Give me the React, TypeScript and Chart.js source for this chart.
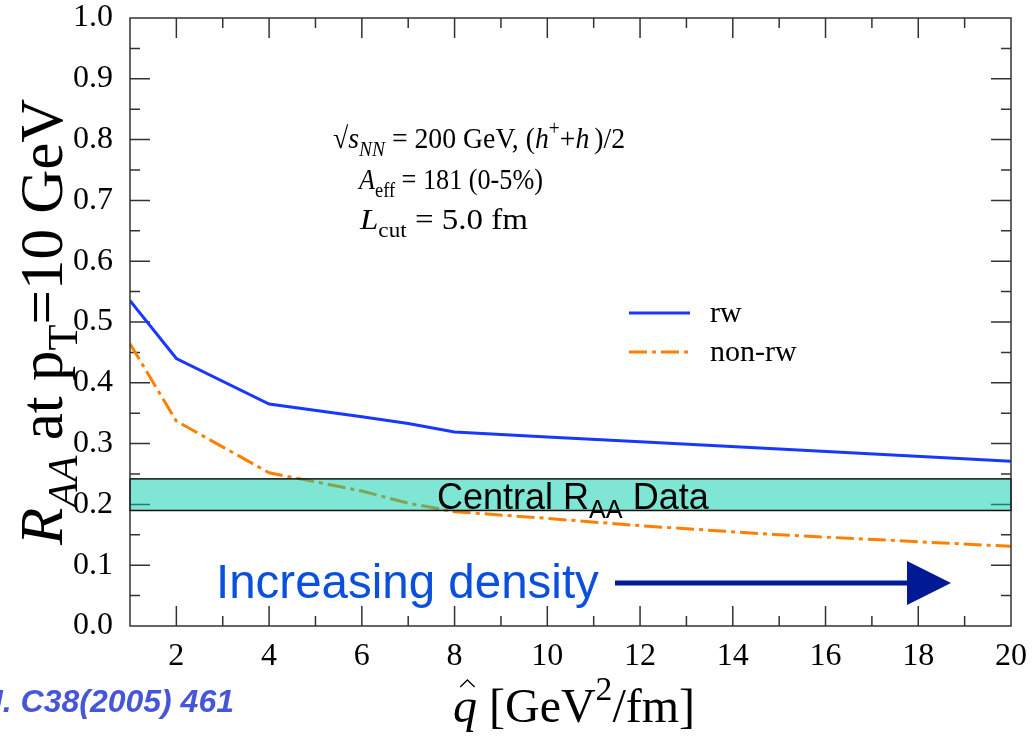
import React, { useEffect, useRef } from "react";
import { Chart, registerables } from "chart.js";

Chart.register(...registerables);

// ---------- data ----------
const QHAT = [1, 2, 4, 6, 7, 8, 10, 12, 15, 20];
const RAA_RW = [0.535, 0.44, 0.365, 0.344, 0.333, 0.319, 0.311, 0.303, 0.291, 0.271];
const RAA_NONRW = [0.464, 0.337, 0.252, 0.222, 0.202, 0.188, 0.177, 0.165, 0.15, 0.131];
const BAND_LOW = 0.19;
const BAND_HIGH = 0.242;
const X_TICKS = [2, 4, 6, 8, 10, 12, 14, 16, 18, 20];
const Y_TICKS = [0, 0.1, 0.2, 0.3, 0.4, 0.5, 0.6, 0.7, 0.8, 0.9, 1.0];
const SERIES_LABELS = ["rw", "non-rw"];

const SERIF = "'Liberation Serif', 'Times New Roman', serif";
const SANS = "'Liberation Sans', Arial, sans-serif";
const BLUE = "#1838ff";
const ORANGE = "#ff8000";
const DASH = [18, 5, 4, 5];

type Seg = { t: string; it?: boolean; sub?: boolean; sup?: boolean };

function richWidth(ctx: CanvasRenderingContext2D, segs: Seg[], size: number, family: string) {
  let w = 0;
  for (const s of segs) {
    const sz = s.sub || s.sup ? size * 0.7 : size;
    ctx.font = `${s.it ? "italic " : ""}${sz}px ${family}`;
    w += ctx.measureText(s.t).width;
  }
  return w;
}

function drawRich(
  ctx: CanvasRenderingContext2D,
  segs: Seg[],
  x: number,
  y: number,
  size: number,
  family: string,
  color: string,
  fitWidth?: number
) {
  ctx.save();
  ctx.translate(x, y);
  if (fitWidth) {
    const w = richWidth(ctx, segs, size, family);
    ctx.scale(fitWidth / w, 1);
  }
  let cx = 0;
  ctx.fillStyle = color;
  ctx.textBaseline = "alphabetic";
  ctx.textAlign = "left";
  for (const s of segs) {
    const sz = s.sub || s.sup ? size * 0.7 : size;
    ctx.font = `${s.it ? "italic " : ""}${sz}px ${family}`;
    const dy = s.sub ? size * 0.25 : s.sup ? -size * 0.45 : 0;
    ctx.fillText(s.t, cx, dy);
    cx += ctx.measureText(s.t).width;
  }
  ctx.restore();
  return cx;
}

const decorPlugin = {
  id: "decor",
  beforeDatasetsDraw(chart: any) {
    const { ctx, chartArea: a, scales } = chart;
    const xs = scales.x;
    const ys = scales.y;
    ctx.save();
    ctx.strokeStyle = "#333";
    ctx.lineWidth = 1.5;
    ctx.beginPath();
    for (let v = 2; v < 20; v++) {
      const px = xs.getPixelForValue(v);
      const len = v % 2 === 0 ? 20 : 10;
      ctx.moveTo(px, a.bottom);
      ctx.lineTo(px, a.bottom - len);
      ctx.moveTo(px, a.top);
      ctx.lineTo(px, a.top + len);
    }
    for (let i = 1; i < 20; i++) {
      const v = i * 0.05;
      const py = ys.getPixelForValue(v);
      const len = i % 2 === 0 ? 20 : 10;
      ctx.moveTo(a.left, py);
      ctx.lineTo(a.left + len, py);
      ctx.moveTo(a.right, py);
      ctx.lineTo(a.right - len, py);
    }
    ctx.stroke();
    ctx.restore();
  },
  afterDatasetsDraw(chart: any) {
    const { ctx, chartArea: a, scales } = chart;
    const ys = scales.y;
    ctx.save();

    // band
    const yTop = ys.getPixelForValue(BAND_HIGH);
    const yBot = ys.getPixelForValue(BAND_LOW);
    ctx.fillStyle = "rgba(0,204,170,0.5)";
    ctx.fillRect(a.left, yTop, a.right - a.left, yBot - yTop);
    ctx.strokeStyle = "#111";
    ctx.lineWidth = 1.5;
    ctx.strokeRect(a.left, yTop, a.right - a.left, yBot - yTop);

    // frame
    ctx.strokeStyle = "#333";
    ctx.lineWidth = 1.5;
    ctx.strokeRect(a.left, a.top, a.right - a.left, a.bottom - a.top);

    // band label
    drawRich(
      ctx,
      [{ t: "Central R" }, { t: "AA", sub: true }, { t: " Data" }],
      437,
      509,
      36,
      SANS,
      "#000"
    );

    // annotation text
    drawRich(
      ctx,
      [
        { t: "\u221A" },
        { t: "s", it: true },
        { t: "NN", it: true, sub: true },
        { t: " = 200 GeV, (" },
        { t: "h", it: true },
        { t: "+", sup: true },
        { t: "+" },
        { t: "h", it: true },
        { t: " ", sup: true },
        { t: ")/2" },
      ],
      333,
      148,
      30,
      SERIF,
      "#000",
      292
    );
    drawRich(
      ctx,
      [{ t: "A", it: true }, { t: "eff", sub: true }, { t: " = 181 (0-5%)" }],
      359,
      189,
      30,
      SERIF,
      "#000",
      184
    );
    drawRich(
      ctx,
      [{ t: "L", it: true }, { t: "cut", sub: true }, { t: " = 5.0 fm" }],
      360,
      229,
      30,
      SERIF,
      "#000",
      168
    );

    // legend
    const legendItems = [
      { label: SERIES_LABELS[0], color: BLUE, dash: [] as number[], y: 313 },
      { label: SERIES_LABELS[1], color: ORANGE, dash: DASH, y: 352 },
    ];
    for (const it of legendItems) {
      ctx.strokeStyle = it.color;
      ctx.lineWidth = 3;
      ctx.setLineDash(it.dash);
      ctx.lineDashOffset = 0;
      ctx.beginPath();
      ctx.moveTo(629, it.y);
      ctx.lineTo(690, it.y);
      ctx.stroke();
      ctx.setLineDash([]);
      ctx.fillStyle = "#000";
      ctx.font = `30px ${SERIF}`;
      ctx.textBaseline = "middle";
      ctx.textAlign = "left";
      ctx.fillText(it.label, 710, it.y + 1);
    }

    // increasing density + arrow
    ctx.fillStyle = "#0a50dc";
    ctx.font = `47.5px ${SANS}`;
    ctx.textBaseline = "alphabetic";
    ctx.textAlign = "left";
    ctx.fillText("Increasing density", 216, 598);
    ctx.strokeStyle = "#001a96";
    ctx.fillStyle = "#001a96";
    ctx.lineWidth = 5;
    ctx.beginPath();
    ctx.moveTo(615, 583);
    ctx.lineTo(910, 583);
    ctx.stroke();
    ctx.beginPath();
    ctx.moveTo(907, 561);
    ctx.lineTo(951, 583);
    ctx.lineTo(907, 605);
    ctx.closePath();
    ctx.fill();

    ctx.restore();
  },
  afterDraw(chart: any) {
    const { ctx } = chart;
    ctx.save();
    // y title
    ctx.translate(62, 545);
    ctx.rotate(-Math.PI / 2);
    drawRich(
      ctx,
      [
        { t: "R", it: true },
        { t: "AA", it: true, sub: true },
        { t: " at p" },
        { t: "T", sub: true },
        { t: "=10 GeV" },
      ],
      0,
      0,
      61,
      SERIF,
      "#000"
    );
    ctx.restore();

    ctx.save();
    // x title
    const x0 = 453;
    const base = 722;
    ctx.font = `italic 48px ${SERIF}`;
    ctx.fillStyle = "#000";
    ctx.textBaseline = "alphabetic";
    ctx.textAlign = "left";
    ctx.fillText("q", x0, base);
    const qw = ctx.measureText("q").width;
    ctx.strokeStyle = "#000";
    ctx.lineWidth = 1.3;
    ctx.beginPath();
    ctx.moveTo(x0 + qw * 0.3, base - 35);
    ctx.lineTo(x0 + qw * 0.6, base - 42);
    ctx.lineTo(x0 + qw * 0.9, base - 35);
    ctx.stroke();
    drawRich(
      ctx,
      [{ t: " [GeV" }, { t: "2", sup: true }, { t: "/fm]" }],
      x0 + qw,
      base,
      48,
      SERIF,
      "#000"
    );

    // citation (cut off at left)
    ctx.font = `bold italic 32px ${SANS}`;
    ctx.fillStyle = "#4656d8";
    ctx.textAlign = "right";
    ctx.textBaseline = "alphabetic";
    ctx.fillText("Eur. Phys. J. C38(2005) 461", 234, 712);
    ctx.restore();
  },
};

const zeroPad = (s: any) => {
  s.paddingTop = 0;
  s.paddingBottom = 0;
  s.paddingLeft = 0;
  s.paddingRight = 0;
};

export default function App() {
  const ref = useRef<HTMLCanvasElement | null>(null);
  useEffect(() => {
    if (!ref.current) return;
    const chart = new Chart(ref.current, {
      type: "line",
      data: {
        datasets: [
          {
            label: SERIES_LABELS[0],
            data: QHAT.map((q, i) => ({ x: q, y: RAA_RW[i] })),
            borderColor: BLUE,
            borderWidth: 3,
            pointRadius: 0,
            tension: 0,
            fill: false,
          },
          {
            label: SERIES_LABELS[1],
            data: QHAT.map((q, i) => ({ x: q, y: RAA_NONRW[i] })),
            borderColor: ORANGE,
            borderWidth: 3,
            borderDash: DASH,
            pointRadius: 0,
            tension: 0,
            fill: false,
          },
        ],
      },
      options: {
        responsive: false,
        animation: false,
        events: [],
        layout: { autoPadding: false, padding: { top: 18, right: 21, left: 0, bottom: 0 } },
        plugins: { legend: { display: false }, tooltip: { enabled: false }, title: { display: false } },
        scales: {
          x: {
            type: "linear",
            min: 1,
            max: 20,
            grid: { display: false, drawTicks: false },
            border: { display: false },
            afterBuildTicks: (s: any) => {
              s.ticks = X_TICKS.map((v) => ({ value: v }));
            },
            afterFit: (s: any) => {
              s.height = 111;
              zeroPad(s);
            },
            ticks: {
              autoSkip: false,
              maxRotation: 0,
              padding: 11,
              color: "#000",
              font: { family: SERIF, size: 32 },
              callback: (v: any) => String(v),
            },
          },
          y: {
            type: "linear",
            min: 0,
            max: 1,
            grid: { display: false, drawTicks: false },
            border: { display: false },
            afterBuildTicks: (s: any) => {
              s.ticks = Y_TICKS.map((v) => ({ value: v }));
            },
            afterFit: (s: any) => {
              s.width = 130;
              zeroPad(s);
            },
            ticks: {
              autoSkip: false,
              padding: 17,
              color: "#000",
              font: { family: SERIF, size: 32 },
              callback: (v: any) => Number(v).toFixed(1),
            },
          },
        },
      } as any,
      plugins: [decorPlugin],
    });
    return () => chart.destroy();
  }, []);
  return (
    <div style={{ position: "absolute", left: 0, top: 0, width: 1032, height: 737, background: "#fff" }}>
      <canvas ref={ref} width={1032} height={737} style={{ display: "block" }} />
    </div>
  );
}
